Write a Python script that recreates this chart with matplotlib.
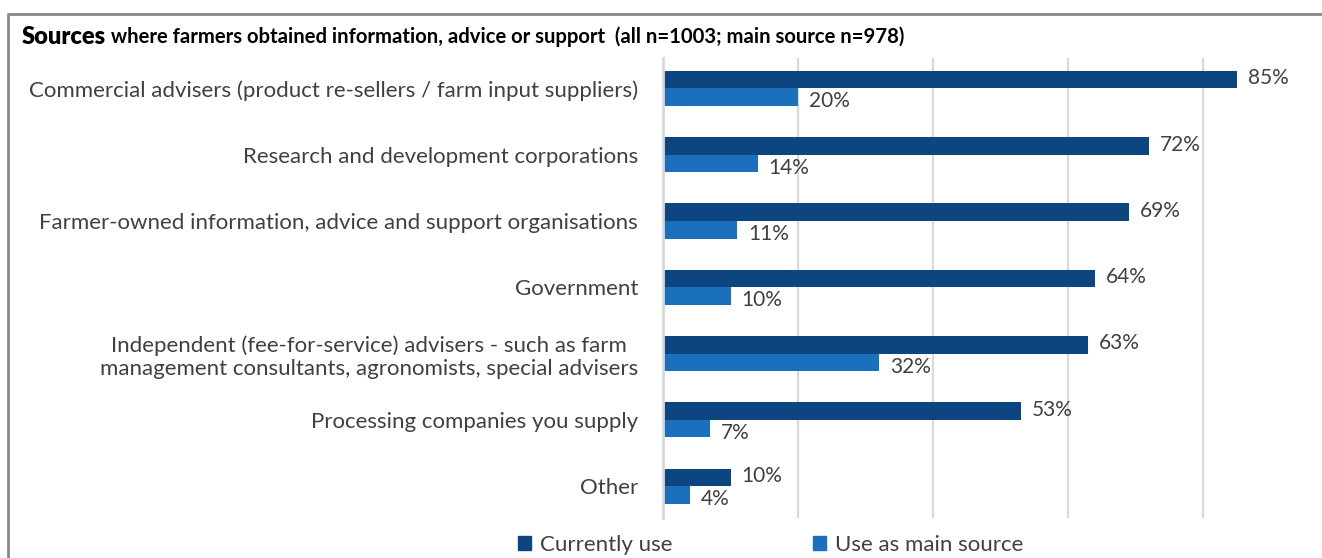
import numpy as np
import matplotlib
matplotlib.use("Agg")
import matplotlib.pyplot as plt
from matplotlib.lines import Line2D
from matplotlib.patches import Patch

plt.rcParams['font.family'] = ['Lato', 'DejaVu Sans']

categories = [
    "Commercial advisers (product re-sellers / farm input suppliers)",
    "Research and development corporations",
    "Farmer-owned information, advice and support organisations",
    "Government",
    "Independent (fee-for-service) advisers - such as farm\nmanagement consultants, agronomists, special advisers",
    "Processing companies you supply",
    "Other",
]
currently_use = [85, 72, 69, 64, 63, 53, 10]
main_source = [20, 14, 11, 10, 32, 7, 4]
series_names = ["Currently use", "Use as main source"]

dark = "#0d4580"
light = "#1b70bd"
txt = "#404040"

W, H = 1322, 558
fig = plt.figure(figsize=(W / 100, H / 100), dpi=100)
ax = fig.add_axes([663 / W, 1 - 518 / H, 648 / W, 460 / H])

y = np.arange(len(categories))
h = 0.265
ax.barh(y - h / 2, currently_use, height=h, color=dark, zorder=3)
ax.barh(y + h / 2, main_source, height=h, color=light, zorder=3)

for yi, v in zip(y, currently_use):
    ax.annotate(f"{v}%", (v, yi - h / 2), xytext=(8, 1), textcoords="offset points",
                va="center", ha="left", fontsize=15, color=txt)
for yi, v in zip(y, main_source):
    ax.annotate(f"{v}%", (v, yi + h / 2), xytext=(8, -3), textcoords="offset points",
                va="center", ha="left", fontsize=15, color=txt)

ax.set_xlim(0, 96)
ax.set_ylim(len(categories) - 0.52, -0.46)
ax.set_xticks([20, 40, 60, 80])
ax.xaxis.grid(True, color="#d9d9d9", linewidth=1.6, zorder=0)
ax.tick_params(axis="x", length=0, labelbottom=False)
ax.set_yticks(y)
ax.set_yticklabels(categories, fontsize=16, color=txt, multialignment="center",
                   linespacing=1.2)
ax.tick_params(axis="y", length=0, pad=18)
for s in ["top", "right", "bottom"]:
    ax.spines[s].set_visible(False)
ax.spines["left"].set_color("#d9d9d9")
ax.spines["left"].set_linewidth(2)
ax.spines["left"].set_zorder(4)

# title
t1 = fig.text(22 / W, 1 - 37 / H, "Sources", fontsize=17, fontweight="heavy",
              color="black", va="center", ha="left")
ax.annotate(" where farmers obtained information, advice or support  (all n=1003; main source n=978)",
            xy=(1, 0.5), xycoords=t1, va="center", ha="left", fontsize=14.6,
            fontweight="bold", color="black")

# frame
fig.add_artist(Line2D([8 / W, 8 / W, 1.0], [0, 1 - 14 / H, 1 - 14 / H],
                      transform=fig.transFigure, color="#888888", linewidth=2))

handles = [Patch(color=dark), Patch(color=light)]
fig.legend(handles, series_names, loc="center", bbox_to_anchor=(0.583, 1 - 545 / H),
           ncol=2, frameon=False, fontsize=16, handlelength=0.6, handleheight=0.6,
           handletextpad=0.4, columnspacing=6.3, labelcolor=txt)

fig.savefig("out.png", dpi=100)
